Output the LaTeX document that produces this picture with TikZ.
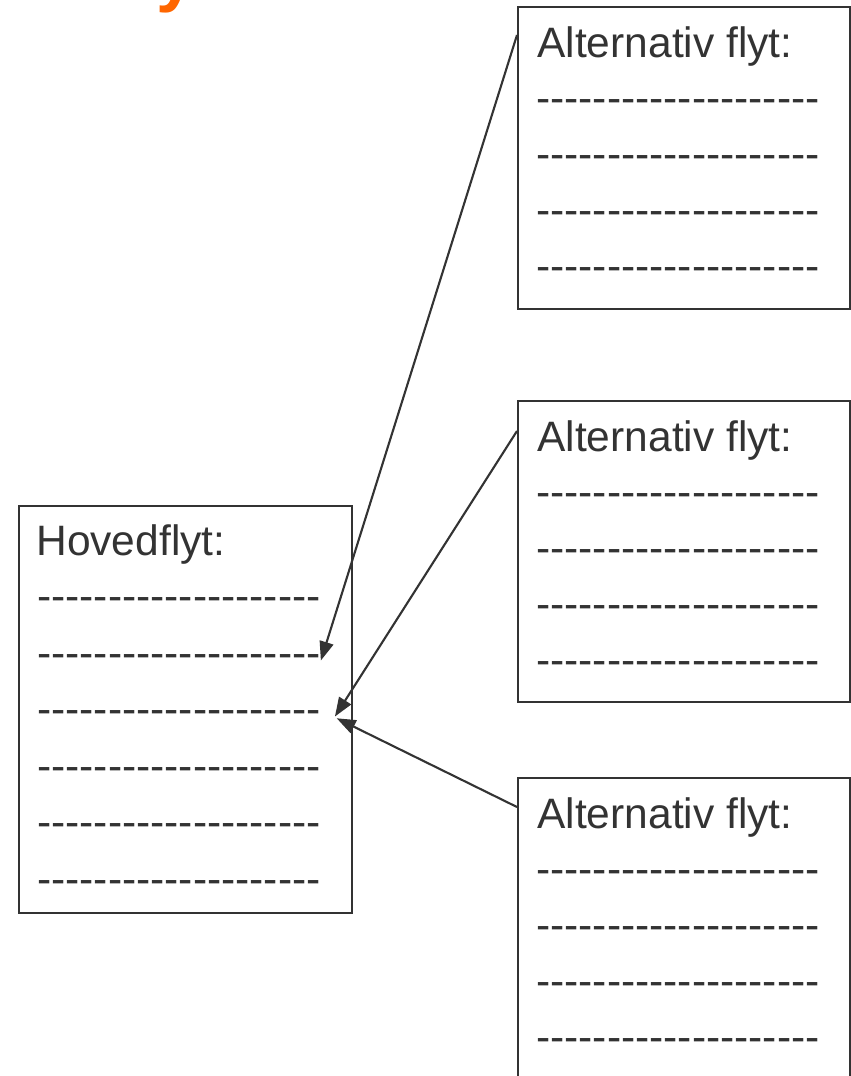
\documentclass[tikz,border=0pt]{standalone}
\usepackage{fontspec}
\setmainfont{Liberation Sans}[Ligatures=TeXOff]
\usetikzlibrary{arrows.meta}
\definecolor{ink}{RGB}{51,51,51}
\definecolor{titleorange}{RGB}{255,102,0}
\newcommand{\dashrow}{--------------------}

\begin{document}
\begin{tikzpicture}[x=0.02cm,y=-0.02cm,
	flow/.style={shape=rectangle,draw=ink,line width=1.3pt,anchor=north west,inner sep=0pt,minimum width=6.64cm},
	line/.style={anchor=base west,inner sep=0pt,text=ink,font=\fontsize{24.2}{28}\selectfont},
	jump/.style={draw=ink,line width=1.2pt,-{Triangle[length=0.38cm,width=0.28cm]}}]
	
	\useasboundingbox (0,0) rectangle (850,1076);
	
	\node[anchor=base west,inner sep=0pt,text=titleorange,font=\bfseries\fontsize{40}{40}\selectfont] (tail) at (156,-2) {y};
	
	\node[flow,minimum width=6.66cm,minimum height=8.14cm] (main) at (18,505) {};
	\node[flow,minimum height=6.04cm] (alt1) at (517,6) {};
	\node[flow,minimum height=6.02cm] (alt2) at (517,400) {};
	\node[flow,minimum height=8cm] (alt3) at (517,777) {};
	
	\node[line] (maint) at (36,555)  {Hovedflyt:};
	\node[line] (main1) at (37,610)  {\dashrow};
	\node[line] (main2) at (37,667)  {\dashrow};
	\node[line] (main3) at (37,723)  {\dashrow};
	\node[line] (main4) at (37,780)  {\dashrow};
	\node[line] (main5) at (37,836)  {\dashrow};
	\node[line] (main6) at (37,893)  {\dashrow};
	
	\node[line] (alt1t) at (537,57)  {Alternativ flyt:};
	\node[line] (alt11) at (536,112) {\dashrow};
	\node[line] (alt12) at (536,168) {\dashrow};
	\node[line] (alt13) at (536,224) {\dashrow};
	\node[line] (alt14) at (536,280) {\dashrow};
	
	\node[line] (alt2t) at (537,451) {Alternativ flyt:};
	\node[line] (alt21) at (536,506) {\dashrow};
	\node[line] (alt22) at (536,562) {\dashrow};
	\node[line] (alt23) at (536,618) {\dashrow};
	\node[line] (alt24) at (536,674) {\dashrow};
	
	\node[line] (alt3t) at (537,828) {Alternativ flyt:};
	\node[line] (alt31) at (536,883) {\dashrow};
	\node[line] (alt32) at (536,939) {\dashrow};
	\node[line] (alt33) at (536,995) {\dashrow};
	\node[line] (alt34) at (536,1051) {\dashrow};
	
	\coordinate (out1) at (517,35);
	\coordinate (out2) at (517,431);
	\coordinate (out3) at (517,807);
	
	\draw[jump] (out1) -- (main2.east);
	\draw[jump] (out2) -- ([xshift=8pt]main3.east);
	\draw[jump] (out3) -- ([xshift=9pt,yshift=-1pt]main3.east);
	
\end{tikzpicture}
\end{document}
